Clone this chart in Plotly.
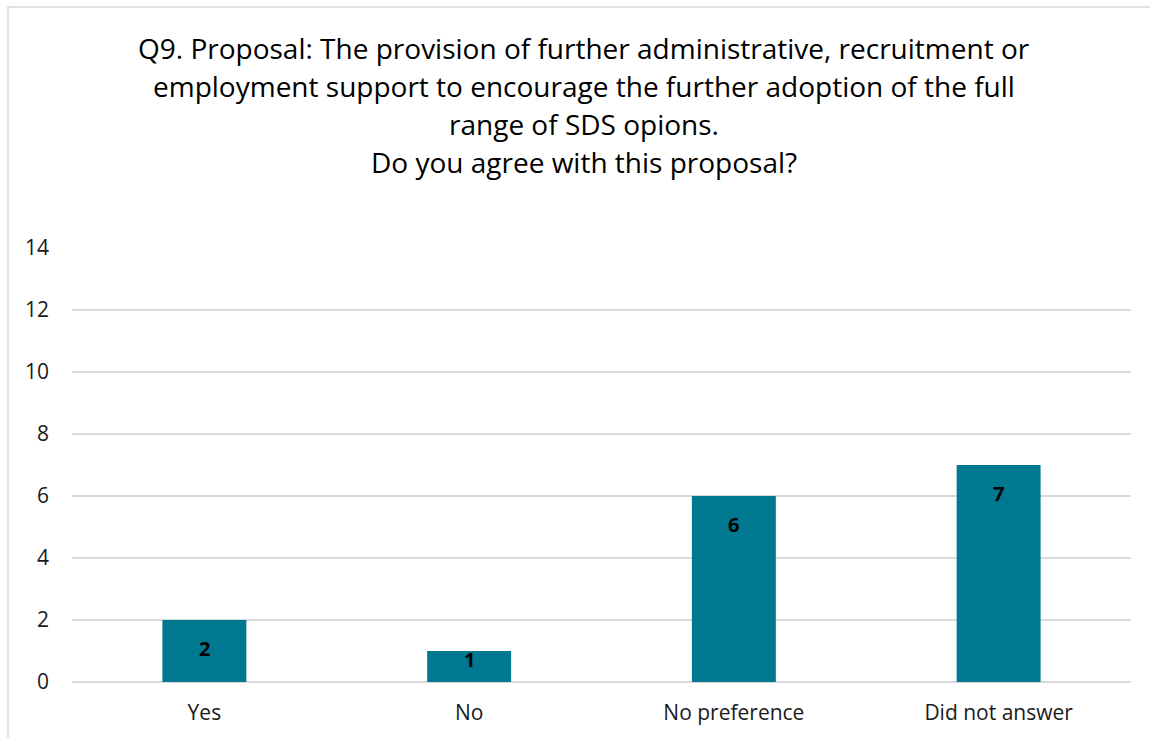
import plotly.graph_objects as go

categories = ["Yes", "No", "No preference", "Did not answer"]
values = [2, 1, 6, 7]
y_ticks = [0, 2, 4, 6, 8, 10, 12, 14]
title_lines = [
    "Q9. Proposal: The provision of further administrative, recruitment or",
    "employment support to encourage the further adoption of the full",
    "range of SDS opions.",
    "Do you agree with this proposal?",
]

W, H = 1150, 738
L, R, T, B = 72, 19, 248, 56
plot_h = H - T - B
plot_w = W - L - R
px_per_unit = plot_h / 14.0

BAR = "#00788F"
FONT = "Open Sans"

fig = go.Figure()
fig.add_trace(go.Bar(
    x=categories, y=values, width=0.317,
    marker=dict(color=BAR, line=dict(width=0)),
    hoverinfo="skip",
))

annotations = []
for c, v in zip(categories, values):
    barpx = v * px_per_unit
    shift = -min(28, barpx - 23)
    annotations.append(dict(
        x=c, y=v, xref="x", yref="y", text="<b>%d</b>" % v, showarrow=False,
        yanchor="middle", yshift=shift,
        font=dict(family=FONT, size=20, color="#000000"),
    ))

title_y = [48, 86, 124, 162]
for line, yy in zip(title_lines, title_y):
    annotations.append(dict(
        x=(584 - L) / plot_w, y=(H - B - yy) / plot_h,
        xref="paper", yref="paper", text=line,
        showarrow=False, xanchor="center", yanchor="middle",
        font=dict(family=FONT, size=28, color="#000000"),
    ))

fig.update_layout(
    width=W, height=H,
    margin=dict(l=L, r=R, t=T, b=B, pad=0),
    paper_bgcolor="white", plot_bgcolor="white",
    showlegend=False,
    bargap=0.683,
    annotations=annotations,
    font=dict(family=FONT, size=18, color="#000000"),
    xaxis=dict(
        showgrid=False, showline=False, ticks="", zeroline=False,
        tickfont=dict(family=FONT, size=21, color="#1a1a1a"),
        ticklabelstandoff=16,
    ),
    yaxis=dict(
        range=[0, 14], tickvals=y_ticks, showgrid=True,
        gridcolor="#d9d9d9", gridwidth=1.5, zeroline=True,
        zerolinecolor="#d9d9d9", zerolinewidth=1.5, showline=False,
        ticks="", tickfont=dict(family=FONT, size=21, color="#1a1a1a"),
        ticklabelstandoff=22,
    ),
    shapes=[dict(
        type="rect", xref="paper", yref="paper",
        x0=(8 - L) / plot_w, x1=(1165 - L) / plot_w,
        y0=(H - B - 760) / plot_h, y1=(H - B - 7) / plot_h,
        line=dict(color="#d9d9d9", width=1.5), fillcolor="rgba(0,0,0,0)",
        layer="below",
    )],
)

fig.write_html("out.html", config={"displayModeBar": False})
